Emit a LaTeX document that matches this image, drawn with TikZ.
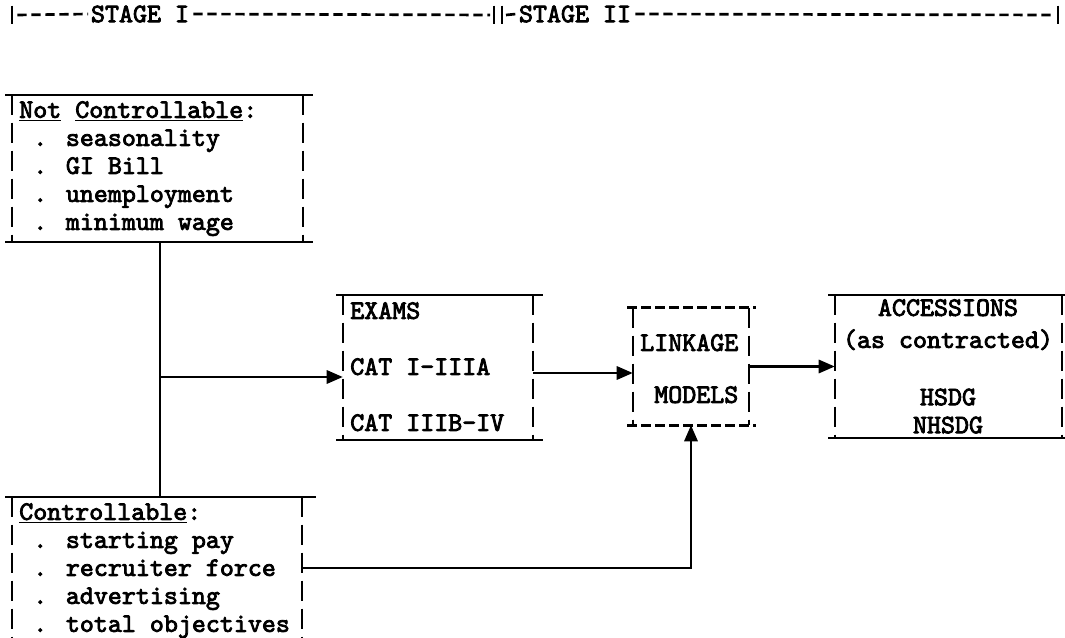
\documentclass[tikz,border=0pt]{standalone}
\usepackage{fontspec}
\newfontfamily\typefont{lmmono10-regular.otf}[FakeBold=3]
\usetikzlibrary{arrows.meta,fit,positioning}

\tikzset{
  txt/.style={font=\typefont\fontsize{20}{21}\selectfont, inner sep=0pt, align=left},
  frame/.style={inner sep=0pt, draw=none},
  rule/.style={line width=1.7pt},
  bar/.style={line width=1.5pt, dash pattern=on 15pt off 6pt},
  hyph/.style={line width=2pt, dash pattern=on 7pt off 3.5pt},
  flow/.style={line width=1.6pt, -{Triangle[length=12pt,width=10pt]}}
}

% solid rules above and below, typed bars at the sides
\newcommand{\typebox}[1]{%
  \draw[rule] ([xshift=-5pt]#1.north west) -- ([xshift=7pt]#1.north east);
  \draw[rule] ([xshift=-5pt]#1.south west) -- ([xshift=7pt]#1.south east);
  \draw[bar] (#1.north west) -- (#1.south west);
  \draw[bar] (#1.north east) -- (#1.south east);
}

\begin{document}
\begin{tikzpicture}[x=0.75pt,y=-0.75pt]
  \useasboundingbox (0,0) rectangle (1065,638);

  % stage header
  \node[txt] (stageone) at (140,14) {STAGE I};
  \node[txt] (stagetwo) at (575,14) {STAGE II};
  \coordinate (hleft) at (12,15);
  \coordinate (hmidl) at (494,15);
  \coordinate (hmidr) at (502,15);
  \coordinate (hright) at (1058,15);
  \foreach \c in {hleft,hmidl,hmidr,hright}
    \draw[rule] ([yshift=7pt]\c) -- ([yshift=-7pt]\c);
  \draw[hyph] ([xshift=4pt]hleft) -- ([xshift=-2pt]stageone.west);
  \draw[hyph] ([xshift=3pt]stageone.east) -- ([xshift=-3pt]hmidl);
  \draw[hyph] ([xshift=3pt]hmidr) -- ([xshift=-2pt]stagetwo.west);
  \draw[hyph] ([xshift=3pt]stagetwo.east) -- ([xshift=-3pt]hright);

  % boxes
  \node[frame, fit={(12,95) (303,242)}] (nc) {};
  \node[frame, fit={(343,295) (533,440)}] (exams) {};
  \node[frame, fit={(633,308) (749,425)}] (link) {};
  \node[frame, fit={(835,295) (1062,438)}] (acc) {};
  \node[frame, fit={(12,497) (302,638)}] (ctl) {};
  \typebox{nc}
  \typebox{exams}
  \typebox{acc}
  \draw[hyph] ([xshift=-4pt]link.north west) -- ([xshift=5pt]link.north east);
  \draw[hyph] ([xshift=-4pt]link.south west) -- ([xshift=5pt]link.south east);
  \draw[bar] (link.north west) -- (link.south west);
  \draw[bar] (link.north east) -- (link.south east);
  \draw[rule] ([xshift=-5pt]ctl.north west) -- ([xshift=10pt]ctl.north east);
  \draw[bar] (ctl.north west) -- (ctl.south west);
  \draw[bar] (ctl.north east) -- (ctl.south east);

  % box texts
  \node[txt, anchor=north west] (nctext) at (19,98)
    {\strut\underline{Not} \underline{Controllable}:\\ ~. seasonality\\ ~. GI Bill\\
     ~. unemployment\\ ~. minimum wage};
  \node[txt, anchor=north west] (examstext) at (350,299)
    {\strut EXAMS\\[21pt] CAT I-IIIA\\[21pt] CAT IIIB-IV};
  \node[txt, anchor=north west] (linktext) at (640,331)
    {\strut LINKAGE\\[18pt] ~MODELS};
  \node[txt, anchor=north, align=center] (acctext) at (948,296)
    {\strut ACCESSIONS\\[3pt] (as contracted)\\[22pt] HSDG\\ NHSDG};
  \node[txt, anchor=north west] (ctltext) at (19,500)
    {\strut\underline{Controllable}:\\ ~. starting pay\\ ~. recruiter force\\
     ~. advertising\\ ~. total objectives};

  % connectors
  \coordinate (join) at (160,377);
  \draw[rule] (nc.south -| join) -- (ctl.north -| join);
  \draw[flow] (join) -- (join -| exams.west);
  \draw[flow] (exams.east |- 0,373) -- (link.west |- 0,373);
  \draw[flow] (link.east) -- (acc.west);
  \draw[flow] (ctl.east |- 0,568) -| (link.south);
\end{tikzpicture}
\end{document}
